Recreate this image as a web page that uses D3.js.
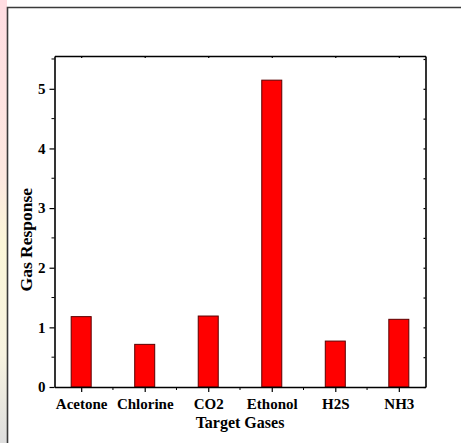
<!DOCTYPE html>
<html>
<head>
<meta charset="utf-8">
<script src="https://d3js.org/d3.v7.min.js"></script>
<style>
  body { margin: 0; background: #fff; }
  svg { display: block; }
</style>
</head>
<body>
<div id="chart"></div>
<script>
let width = 461;
let height = 443;

// values
const gases = ["Acetone", "Chlorine", "CO2", "Ethonol", "H2S", "NH3"];
const response = [1.18, 0.715, 1.19, 5.145, 0.77, 1.135];
const yTicks = [0, 1, 2, 3, 4, 5];

let margin = {left: 54.5, right: 35.5, top: 56, bottom: 56};

let svg = d3.select("#chart")
    .append("svg")
    .attr("width", width)
    .attr("height", height);

// faint watermark strip at the left edge
let grad = svg.append("defs").append("linearGradient")
    .attr("id", "strip")
    .attr("x1", 0).attr("y1", 0).attr("x2", 0).attr("y2", 1);
grad.append("stop").attr("offset", "0%").attr("stop-color", "#ffdde2");
grad.append("stop").attr("offset", "40%").attr("stop-color", "#fde8e0");
grad.append("stop").attr("offset", "55%").attr("stop-color", "#fbf6d8");
grad.append("stop").attr("offset", "80%").attr("stop-color", "#f7f3e0");
grad.append("stop").attr("offset", "100%").attr("stop-color", "#dedede");
svg.append("rect")
    .attr("x", 0).attr("y", 0)
    .attr("width", 7).attr("height", height)
    .attr("fill", "url(#strip)");

// outer frame of the figure
svg.append("path")
    .attr("d", `M7.5,${height} V7.5 H${width}`)
    .attr("fill", "none")
    .attr("stroke", "#3a3a3a")
    .attr("stroke-width", 1.6);

let x = d3.scalePoint()
    .domain(gases)
    .range([margin.left, width - margin.right])
    .padding(0.42);

let y = d3.scaleLinear()
    .domain([0, 5.55])
    .range([height - margin.bottom, margin.top]);

let barW = x.step() * 0.315;
let font = "'Liberation Serif', 'Times New Roman', serif";

// bars
svg.append("g")
    .selectAll("rect")
    .data(gases)
    .join("rect")
    .attr("x", d => x(d) - barW / 2)
    .attr("y", (d, i) => y(response[i]))
    .attr("width", barW)
    .attr("height", (d, i) => y(0) - y(response[i]))
    .attr("fill", "#ff0000")
    .attr("stroke", "#5a0000")
    .attr("stroke-width", 1);

// minor ticks half way between categories
let between = gases.slice(1).map(d => x(d) - x.step() / 2);

// bottom axis
let xAxis = svg.append("g")
    .attr("transform", `translate(0,${y(0)})`)
    .call(d3.axisBottom(x).tickSize(5).tickSizeOuter(0).tickPadding(6));
xAxis.append("g")
    .selectAll("line")
    .data(between)
    .join("line")
    .attr("x1", d => d).attr("x2", d => d)
    .attr("y1", 0).attr("y2", 3)
    .attr("stroke", "#000");

// left axis
let yAxis = svg.append("g")
    .attr("transform", `translate(${margin.left},0)`)
    .call(d3.axisLeft(y).tickValues(yTicks).tickFormat(d3.format("d"))
        .tickSize(5).tickSizeOuter(0).tickPadding(4));
yAxis.append("g")
    .selectAll("line")
    .data(d3.range(0.5, 5.6, 1))
    .join("line")
    .attr("x1", 0).attr("x2", -3)
    .attr("y1", d => y(d)).attr("y2", d => y(d))
    .attr("stroke", "#000");

// top and right axes, mirrored small ticks
let topAxis = svg.append("g")
    .attr("transform", `translate(0,${margin.top})`)
    .call(d3.axisBottom(x).tickSize(2).tickSizeOuter(0).tickFormat(""));
let rightAxis = svg.append("g")
    .attr("transform", `translate(${width - margin.right},0)`)
    .call(d3.axisLeft(y).tickValues(d3.range(0, 5.6, 0.5)).tickSize(2).tickSizeOuter(0).tickFormat(""));

[xAxis, yAxis, topAxis, rightAxis].forEach(a => {
    a.select(".domain").attr("stroke", "#000").attr("stroke-width", 1.6);
    a.selectAll(".tick line").attr("stroke", "#000").attr("stroke-width", 1.2);
    a.selectAll("text")
        .attr("fill", "#000")
        .style("font-family", font)
        .style("font-weight", "bold")
        .style("font-size", "15px");
});

// axis titles
svg.append("text")
    .attr("x", (margin.left + width - margin.right) / 2)
    .attr("y", 428)
    .attr("text-anchor", "middle")
    .style("font-family", font)
    .style("font-weight", "bold")
    .style("font-size", "16px")
    .text("Target Gases");

svg.append("text")
    .attr("transform", `translate(32,${y(2.47)}) rotate(-90)`)
    .attr("text-anchor", "middle")
    .style("font-family", font)
    .style("font-weight", "bold")
    .style("font-size", "17.5px")
    .text("Gas Response");
</script>
</body>
</html>
